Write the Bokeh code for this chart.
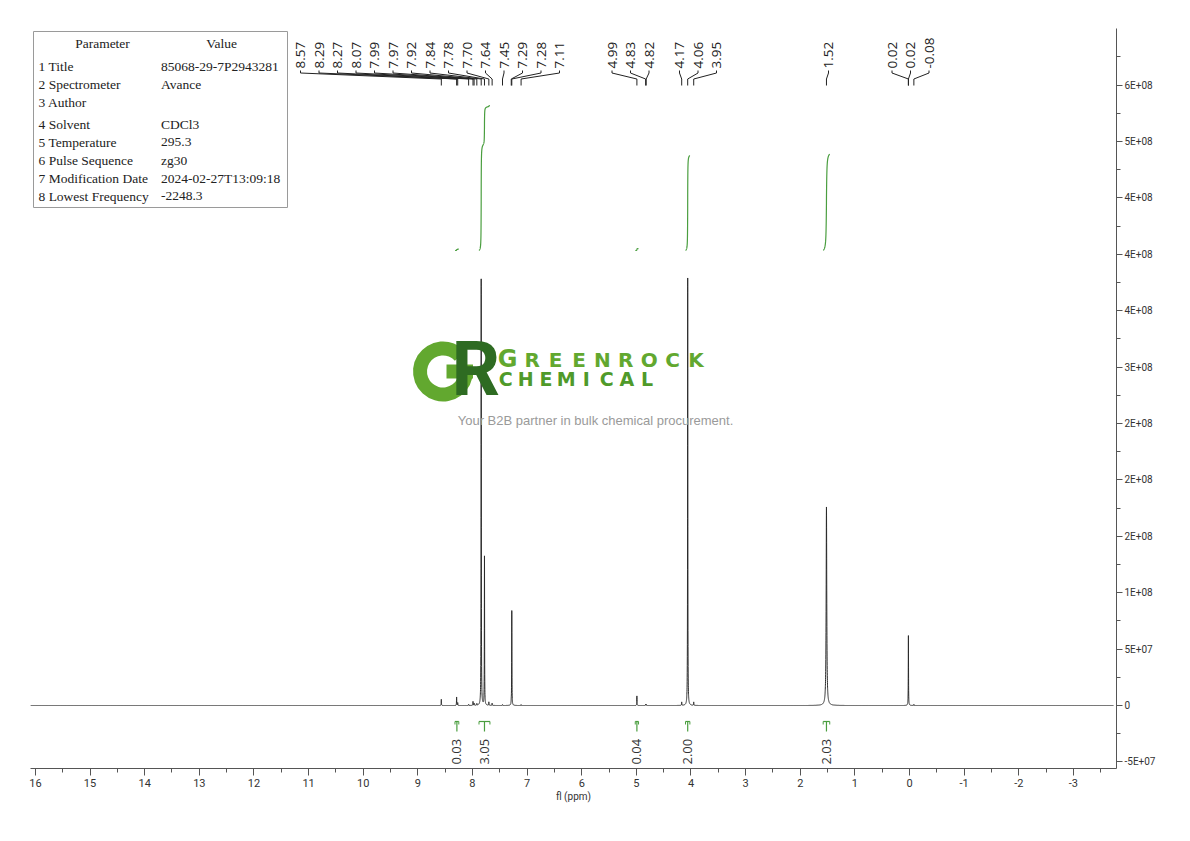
import numpy as np
from bokeh.plotting import figure
from bokeh.models import Range1d, FixedTicker
from bokeh.core.properties import value
from bokeh.embed import file_html
from bokeh.resources import INLINE

# ---------------- data ----------------
peak_ppm = [8.57, 8.29, 8.27, 8.07, 7.99, 7.97, 7.92, 7.84, 7.78, 7.70, 7.64, 7.45,
            7.29, 7.28, 7.11, 4.99, 4.83, 4.82, 4.17, 4.06, 3.95, 1.52, 0.02, 0.02, -0.08]
peak_height = [5.5e6, 7.5e6, 2.5e6, 1.0e6, 3.5e6, 2.0e6, 1.5e6, 3.78e8, 1.32e8, 3.0e6, 2.0e6, 0.8e6,
               2.5e6, 8.4e7, 0.8e6, 8.5e6, 1.0e6, 1.0e6, 3.0e6, 3.79e8, 3.0e6, 1.76e8, 3.1e7, 3.1e7, 1.0e6]
peak_hwhm = [0.0025] * 21 + [0.0065] + [0.0025] * 3

label_groups = [
    [8.57, 8.29, 8.27, 8.07, 7.99, 7.97, 7.92, 7.84, 7.78, 7.70, 7.64, 7.45, 7.29, 7.28, 7.11],
    [4.99, 4.83, 4.82],
    [4.17, 4.06, 3.95],
    [1.52],
    [0.02, 0.02, -0.08],
]

integral_from = [8.32, 7.88, 5.02, 4.10, 1.58]
integral_to = [8.25, 7.68, 4.96, 4.02, 1.46]
integral_value = [0.03, 3.05, 0.04, 2.00, 2.03]

param_names = ["Title", "Spectrometer", "Author", "Solvent", "Temperature",
               "Pulse Sequence", "Modification Date", "Lowest Frequency"]
param_values = ["85068-29-7P2943281", "Avance", "", "CDCl3", "295.3",
                "zg30", "2024-02-27T13:09:18", "-2248.3"]

x_tick_values = [16, 15, 14, 13, 12, 11, 10, 9, 8, 7, 6, 5, 4, 3, 2, 1, 0, -1, -2, -3]
x_tick_labels = ["16", "15", "14", "13", "12", "11", "10", "9", "8", "7", "6", "5",
                 "4", "3", "2", "1", "0", "-1", "-2", "-3"]
y_tick_values = [-5e7, 0, 5e7, 1e8, 1.5e8, 2e8, 2.5e8, 3e8, 3.5e8, 4e8, 4.5e8, 5e8, 5.5e8]
y_tick_labels = ["-5E+07", "0", "5E+07", "1E+08", "2E+08", "2E+08", "2E+08", "3E+08",
                 "4E+08", "4E+08", "4E+08", "5E+08", "6E+08"]

# ---------------- layout helpers (page pixel -> data) ----------------
PX_PER_PPM = 54.63
PPM0_PX = 909.0
PX_PER_5E7 = 56.4
Y0_PX = 705.0


def X(px):
    return (PPM0_PX - px) / PX_PER_PPM


def Y(py):
    return (Y0_PX - py) * 5e7 / PX_PER_5E7


FRAME_L, FRAME_R, FRAME_T, FRAME_B = 30, 1116, 28, 768

p = figure(frame_width=FRAME_R - FRAME_L, frame_height=FRAME_B - FRAME_T,
           x_range=Range1d(X(FRAME_L), X(FRAME_R)), y_range=Range1d(Y(FRAME_B), Y(FRAME_T)),
           y_axis_location="right", output_backend="svg", toolbar_location=None,
           min_border_left=FRAME_L, min_border_top=FRAME_T,
           min_border_right=56, min_border_bottom=40)
p.outline_line_color = None
p.grid.visible = False
p.background_fill_color = "white"
p.border_fill_color = "white"

AXIS_FONT = "Roboto"
xa = p.xaxis[0]
xa.ticker = FixedTicker(ticks=x_tick_values, minor_ticks=[t - 0.5 for t in x_tick_values])
xa.major_label_overrides = {int(v): s for v, s in zip(x_tick_values, x_tick_labels)}
xa.axis_label = "fl (ppm)"
xa.axis_label_text_font = AXIS_FONT
xa.axis_label_text_font_style = "normal"
xa.axis_label_text_font_size = "10px"
xa.axis_label_text_color = "#333333"
xa.axis_label_standoff = 1
xa.major_label_text_font = AXIS_FONT
xa.major_label_text_font_size = "11px"
xa.major_label_text_color = "#333333"
xa.major_label_standoff = 3
xa.major_tick_out = 7
xa.major_tick_in = 0
xa.minor_tick_out = 4
xa.minor_tick_in = 0
xa.axis_line_color = "#555555"
xa.major_tick_line_color = "#555555"
xa.minor_tick_line_color = "#555555"

ya = p.yaxis[0]
ya.ticker = FixedTicker(ticks=y_tick_values, minor_ticks=[t + 2.5e7 for t in y_tick_values])
ya.major_label_overrides = {int(v): s for v, s in zip(y_tick_values, y_tick_labels)}
ya.major_label_text_font = AXIS_FONT
ya.major_label_text_font_size = "10px"
ya.major_label_text_color = "#333333"
ya.major_label_standoff = 2
ya.major_tick_out = 6
ya.major_tick_in = 0
ya.minor_tick_out = 4
ya.minor_tick_in = 0
ya.axis_line_color = "#555555"
ya.major_tick_line_color = "#555555"
ya.minor_tick_line_color = "#555555"

# ---------------- spectrum ----------------
xs = np.linspace(X(FRAME_L), X(FRAME_R - 3), 24000)
xs = np.sort(np.concatenate([xs, np.array(peak_ppm)]))[::-1]
spec = np.zeros_like(xs)
for c, h, w in zip(peak_ppm, peak_height, peak_hwhm):
    spec += h / (1.0 + ((xs - c) / w) ** 2)
p.line(xs, spec, line_color="#2b2b2b", line_width=1)

# ---------------- integrals ----------------
INT_GREEN = "#4a9e3f"
int_base = Y(250)
int_unit = 47.5 * 5e7 / PX_PER_5E7
for a, b, v in zip(integral_from, integral_to, integral_value):
    m = (xs <= a) & (xs >= b)
    seg_x = xs[m]
    cum = np.cumsum(spec[m])
    cum = cum / cum[-1] * v * int_unit
    p.line(seg_x, int_base + cum, line_color=INT_GREEN, line_width=1.2)
    c = 0.5 * (a + b)
    p.line([c, c], [Y(721), Y(731)], line_color=INT_GREEN, line_width=1.2)
    p.line([a, b], [Y(721), Y(721)], line_color=INT_GREEN, line_width=1.2)
    p.line([a, a], [Y(721), Y(724)], line_color=INT_GREEN, line_width=1)
    p.line([b, b], [Y(721), Y(724)], line_color=INT_GREEN, line_width=1)

p.text(x=[0.5 * (a + b) for a, b in zip(integral_from, integral_to)],
       y=[Y(764)] * len(integral_value),
       text=[f"{v:.2f}" for v in integral_value], angle=np.pi / 2,
       text_align="left", text_baseline="middle",
       text_font=value("Open Sans"), text_font_size="13px", text_color="#333333")

# ---------------- peak labels ----------------
label_group_start_px = [300, 611.5, 679, 828, 891.5]
LABEL_STEP_PX = 18.5
lab_x, lab_t, lines_x, lines_y = [], [], [], []
for grp, start in zip(label_groups, label_group_start_px):
    for i, v in enumerate(grp):
        lx = X(start + i * LABEL_STEP_PX)
        lab_x.append(lx)
        lab_t.append(f"{v:.2f}")
        lines_x.append([lx, lx, v, v])
        lines_y.append([Y(70), Y(72.5), Y(78.5), Y(85)])
p.multi_line(lines_x, lines_y, line_color="#222222", line_width=1)
p.text(x=lab_x, y=[Y(68)] * len(lab_x), text=lab_t, angle=np.pi / 2,
       text_align="left", text_baseline="middle",
       text_font=value("Open Sans"), text_font_size="13.5px", text_color="#222222")

# ---------------- parameter table ----------------
p.quad(left=[X(33)], right=[X(287)], top=[Y(31)], bottom=[Y(207)],
       fill_color="white", line_color="#9a9a9a", line_width=1)
row_px = [65.5, 83.5, 101.5, 123.5, 141.5, 159.5, 177.5, 195.5]
TABLE_FONT = value("Liberation Serif")
p.text(x=[X(102), X(221)], y=[Y(43), Y(43)], text=["Parameter", "Value"],
       text_align="center", text_baseline="middle", text_font=TABLE_FONT,
       text_font_size="13.5px", text_color="#222222")
p.text(x=[X(38)] * len(param_names), y=[Y(r) for r in row_px],
       text=[f"{i + 1} {n}" for i, n in enumerate(param_names)],
       text_align="left", text_baseline="middle", text_font=TABLE_FONT,
       text_font_size="13.5px", text_color="#222222")
p.text(x=[X(160.5)] * len(param_values), y=[Y(r) for r in row_px], text=param_values,
       text_align="left", text_baseline="middle", text_font=TABLE_FONT,
       text_font_size="13.5px", text_color="#222222")

# ---------------- watermark logo ----------------
LIGHT_G = "#62a82f"
DARK_G = "#2e6b22"
p.annular_wedge(x=[X(442.5)], y=[Y(371)], inner_radius=16, outer_radius=30,
                inner_radius_units="screen", outer_radius_units="screen",
                start_angle=np.deg2rad(42), end_angle=np.deg2rad(360),
                direction="anticlock", fill_color=LIGHT_G, line_color=None)
p.quad(left=[X(446)], right=[X(472.5)], top=[Y(364)], bottom=[Y(378)],
       fill_color=LIGHT_G, line_color=None)
p.text(x=[X(451)], y=[Y(368)], text=["R"], text_align="left", text_baseline="middle",
       text_font=value("Roboto"), text_font_style="bold",
       text_font_size="76px", text_color=DARK_G)

word1 = "GREENROCK"
w1x = [X(507)] + [X(520 + 23.4 * i + 11.7) for i in range(len(word1) - 1)]
p.text(x=w1x[:1], y=[Y(358)], text=[word1[0]], text_align="center",
       text_baseline="middle", text_font=value("DejaVu Sans"), text_font_style="bold",
       text_font_size="24px", text_color=LIGHT_G)
p.text(x=w1x[1:], y=[Y(359.5)] * (len(word1) - 1), text=list(word1[1:]), text_align="center",
       text_baseline="middle", text_font=value("DejaVu Sans"), text_font_style="bold",
       text_font_size="20px", text_color=LIGHT_G)
word2 = "CHEMICAL"
p.text(x=[X(495 + 20.2 * i + 10.1) for i in range(len(word2))], y=[Y(378)] * len(word2),
       text=list(word2), text_align="center", text_baseline="middle",
       text_font=value("DejaVu Sans"), text_font_style="bold",
       text_font_size="19px", text_color="#4f9a2a")
p.text(x=[X(595)], y=[Y(420)], text=["Your B2B partner in bulk chemical procurement."],
       text_align="center", text_baseline="middle", text_font=value("Liberation Sans"),
       text_font_size="13px", text_color="#9a9a9a")

open("out.html", "w").write(file_html(p, INLINE))
